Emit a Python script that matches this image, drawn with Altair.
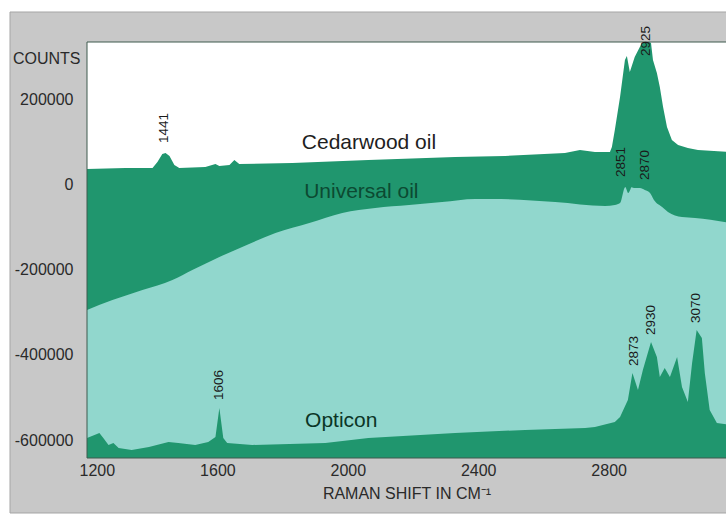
import altair as alt
import pandas as pd

# Raman spectra of three immersion oils (wavenumber in cm^-1, detector counts)
cedar_wn = [1200, 1318, 1401, 1416, 1431, 1441, 1453, 1468, 1483, 1563, 1594, 1606,
            1637, 1652, 1667, 1830, 2063, 2329, 2482, 2666, 2712, 2758, 2804, 2810,
            2819, 2835, 2850, 2856, 2865, 2880, 2902, 2915, 2925, 2930, 2936, 2948,
            2957, 2967, 2979, 2994, 3013, 3043, 3074, 3175]
cedar_counts = [36100, 38400, 38400, 52500, 71200, 73600, 66600, 45400, 38400, 40700,
                47800, 43100, 45400, 57200, 47800, 50100, 57200, 64200, 66600, 73600,
                80600, 76000, 76000, 87700, 127600, 205000, 291800, 301000, 263600,
                298800, 331700, 334000, 334000, 331700, 291800, 261300, 228400, 181500,
                134600, 104100, 92400, 85300, 80600, 76000]

universal_wn = [1200, 1278, 1370, 1462, 1523, 1606, 1676, 1778, 1882, 1983, 2084, 2188,
                2289, 2391, 2443, 2636, 2789, 2819, 2835, 2851, 2860, 2866, 2870, 2880,
                2896, 2911, 2927, 2939, 2964, 2982, 3025, 3065, 3175]
universal_counts = [-294700, -271300, -247800, -224300, -200900, -170400, -146900,
                    -114100, -90600, -67200, -55400, -48400, -41400, -34300, -34300,
                    -41400, -50700, -48400, -43700, -6200, -20200, -13200, -6500, -8500,
                    -8500, -13200, -20200, -36700, -53100, -64800, -76600, -78900, -90600]

opticon_wn = [1200, 1223, 1238, 1250, 1266, 1281, 1297, 1337, 1390, 1450, 1480, 1532,
              1572, 1594, 1606, 1618, 1630, 1707, 1931, 2063, 2329, 2544, 2728, 2758,
              2819, 2835, 2859, 2873, 2890, 2905, 2930, 2948, 2957, 2972, 2988, 3010,
              3025, 3043, 3056, 3070, 3086, 3095, 3110, 3132, 3175]
opticon_counts = [-595000, -588000, -583300, -595000, -611400, -606700, -618500, -623200,
                  -616100, -604400, -606700, -611400, -604400, -592700, -524600, -595000,
                  -606700, -611400, -606700, -595000, -583300, -576200, -571600, -569200,
                  -557500, -545800, -505900, -442500, -482400, -435500, -369800, -405000,
                  -451900, -430800, -451900, -405000, -475400, -510600, -419100, -341600,
                  -360400, -442500, -529300, -559800, -564500]

# Peak annotations: text, position along the shift axis, height on the counts axis
peak_text = ["1441", "2925", "2851", "2870", "1606", "2873", "2930", "3070"]
peak_x = [1437, 2915, 2838, 2911, 1606, 2878, 2930, 3068]
peak_y = [132200, 336300, 52500, 45400, -470700, -390900, -318200, -290000]

# Spectrum names
name_text = ["Cedarwood oil", "Universal oil", "Opticon"]
name_x = [1859, 1866, 1869]
name_y = [95900, -17900, -556300]
name_color = ["#1e1e1e", "#0c4a32", "#0b3526"]

x_ticks = [1200, 1600, 2000, 2400, 2800]
y_ticks = [-600000, -400000, -200000, 0, 200000]

W, H = 639, 416
X_DOMAIN = [1200, 3160]
Y_DOMAIN = [-642000, 334000]
DARK = "#20966e"
LIGHT = "#91d7cd"
FONT = "Liberation Sans"
INK = "#2a2a2a"

x_axis = alt.Axis(values=x_ticks, format="d", grid=False, ticks=False, domain=False,
                  labelFont=FONT, labelFontSize=16, labelColor=INK, labelPadding=4,
                  labelFlush=True, labelFlushOffset=8,
                  title="RAMAN SHIFT IN CM\u207b\u00b9", titleFont=FONT, titleFontSize=16,
                  titleFontWeight="normal", titleColor=INK, titlePadding=7, zindex=2)
y_axis = alt.Axis(values=y_ticks, grid=False, ticks=False, domain=False,
                  labelExpr="datum.value < 0 ? '-' + format(-datum.value, 'd') : format(datum.value, 'd')",
                  labelFont=FONT, labelFontSize=16, labelColor=INK, labelPadding=14,
                  title="COUNTS", titleFont=FONT, titleFontSize=16, titleFontWeight="normal",
                  titleColor=INK, titleAngle=0, titleAlign="right",
                  titleBaseline="middle", titleX=-7, titleY=16, zindex=2)

X = alt.X("wn:Q", scale=alt.Scale(domain=X_DOMAIN, nice=False, zero=False), axis=x_axis)
Y = alt.Y("counts:Q", scale=alt.Scale(domain=Y_DOMAIN, nice=False, zero=False),
          axis=y_axis, stack=None)

one = pd.DataFrame({"k": [0]})

# grey card behind the whole figure
card = alt.Chart(one).mark_rect(color="#c8c8c8", stroke="#a5a5a5", strokeWidth=1).encode(
    x=alt.value(-77), x2=alt.value(W + 20), y=alt.value(-30), y2=alt.value(H + 55))

# white plotting field
field = alt.Chart(one).mark_rect(color="white").encode(
    x=alt.value(0), x2=alt.value(W + 20), y=alt.value(0), y2=alt.value(H))

# thin edge drawn over the spectra
edge = alt.Chart(one).mark_rect(fillOpacity=0, stroke="#3f5a4e", strokeWidth=1).encode(
    x=alt.value(0), x2=alt.value(W + 20), y=alt.value(0), y2=alt.value(H))


def spectrum(wn, counts, color, interp="linear"):
    df = pd.DataFrame({"wn": wn, "counts": counts})
    return alt.Chart(df).mark_area(color=color, clip=True, interpolate=interp).encode(
        x=X, y=Y, y2=alt.datum(Y_DOMAIN[0]))


cedar = spectrum(cedar_wn, cedar_counts, DARK)
universal = spectrum(universal_wn, universal_counts, LIGHT, "monotone")
opticon = spectrum(opticon_wn, opticon_counts, DARK)

peaks = alt.Chart(pd.DataFrame({"t": peak_text, "wn": peak_x, "counts": peak_y})).mark_text(
    angle=270, align="center", baseline="middle", font=FONT, fontSize=13.5,
    color="#1a1a1a").encode(x=X, y=Y, text="t:N")

names = alt.Chart(pd.DataFrame({"t": name_text, "wn": name_x, "counts": name_y,
                                "c": name_color})).mark_text(
    align="left", baseline="middle", font=FONT, fontSize=21).encode(
    x=X, y=Y, text="t:N", color=alt.Color("c:N", scale=None))

chart = alt.layer(card, field, cedar, universal, opticon, edge, peaks, names).properties(
    width=W, height=H,
    padding={"left": 87, "top": 42, "right": 0, "bottom": 59},
    autosize=alt.AutoSizeParams(type="none"),
).configure(background="white").configure_view(stroke=None)

chart.save("out.html", embed_options={"renderer": "svg", "actions": False})
